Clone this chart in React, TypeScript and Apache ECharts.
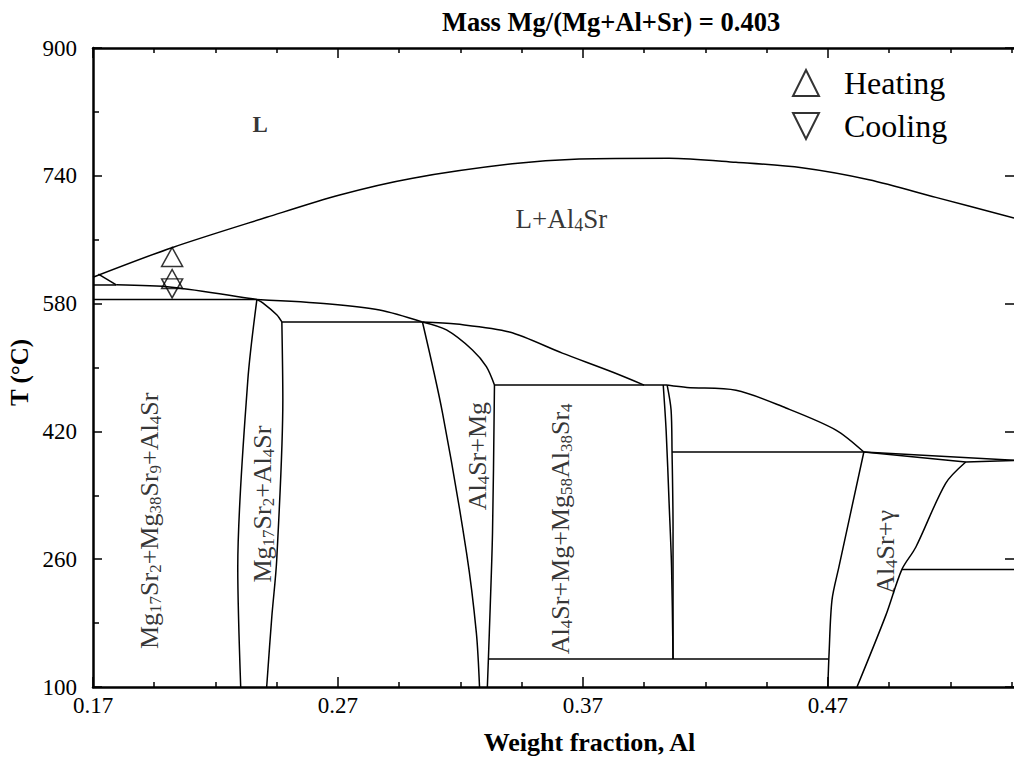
import React, { useEffect, useRef } from 'react';
import * as echarts from 'echarts';

const FONT = 'Liberation Serif, Times New Roman, serif';

const X_MIN = 0.17;
const X_MAX = 0.546;
const Y_MIN = 100;
const Y_MAX = 900;

const xTickMajor = [0.17, 0.27, 0.37, 0.47];
const xTickMinor = [0.195, 0.22, 0.245, 0.295, 0.32, 0.345, 0.395, 0.42, 0.445, 0.495, 0.52, 0.545];
const yTickMajor = [100, 260, 420, 580, 740, 900];
const yTickMinor = [180, 340, 500, 660, 820];

// phase boundaries [weight fraction Al, T (°C)] — curved ones
const liquidus = [[0.17, 613], [0.2022, 650], [0.2409, 688], [0.2707, 716], [0.3005, 737], [0.3412, 755], [0.3685, 761], [0.4052, 762], [0.4325, 757], [0.4594, 750], [0.4868, 735], [0.5141, 713], [0.546, 687]];
const lowerL1 = [[0.1795, 603.5], [0.2022, 600.5], [0.2352, 586], [0.2369, 585]];
const lowerL2 = [[0.2369, 585], [0.2666, 579.5], [0.287, 572], [0.3045, 557]];
const lowerL3 = [[0.3045, 557], [0.3184, 554.4], [0.34, 544.4], [0.3616, 518], [0.382, 494.4], [0.395, 478]];
const lowerL5 = [[0.4044, 478], [0.4125, 475], [0.4325, 471.5], [0.4529, 449.3], [0.4733, 421.7], [0.4847, 394.2]];
const mgSrLeft = [[0.2369, 585], [0.2332, 484], [0.2291, 250], [0.2303, 100]];
const mgSrRightTop = [[0.2369, 585], [0.2393, 581], [0.245, 566], [0.2471, 557]];
const mgSrRightBottom = [[0.2471, 557], [0.2475, 459], [0.245, 259], [0.243, 188], [0.2409, 100]];
const alMgLeft = [[0.3045, 557], [0.3127, 443], [0.3225, 268], [0.3265, 168], [0.3278, 100]];
const alMgRightTop = [[0.3045, 557], [0.3143, 547], [0.3249, 522], [0.3306, 501], [0.3339, 478]];
const alMgRightBottom = [[0.3339, 478], [0.3331, 293], [0.3318, 168], [0.331, 100]];
const v1 = [[0.4028, 478], [0.404, 420], [0.4052, 330], [0.4062, 250], [0.4068, 135]];
const v2 = [[0.4044, 478], [0.406, 447], [0.4064, 394], [0.4068, 300], [0.4068, 135]];
const al4SrBound = [[0.4847, 394.2], [0.4745, 250], [0.4717, 209], [0.4705, 142], [0.47, 100]];
const gammaBound = [[0.5263, 381.7], [0.5181, 355], [0.5059, 275], [0.5002, 247], [0.4937, 190], [0.4819, 100]];

// straight boundaries and tie lines
const lowerL0 = [[0.1722, 617], [0.1795, 603.5]];
const rightUpper = [[0.4847, 394.2], [0.546, 384]];
const rightLower = [[0.4847, 394.2], [0.5263, 381.7], [0.546, 383.5]];
const topLeftTie = [[0.17, 603.3], [0.1795, 603.3]];
const tie585 = [[0.17, 585], [0.2369, 585]];
const tie557 = [[0.2471, 557], [0.3045, 557]];
const tie478 = [[0.3339, 478], [0.4044, 478]];
const tie394 = [[0.4064, 394.2], [0.4847, 394.2]];
const tie135 = [[0.3316, 135], [0.4703, 135]];
const tie247 = [[0.5002, 247], [0.546, 247]];

const curvedLines = [liquidus, lowerL1, lowerL2, lowerL3, lowerL5, mgSrLeft, mgSrRightTop, mgSrRightBottom, alMgLeft, alMgRightTop, alMgRightBottom, v1, v2, al4SrBound, gammaBound];
const straightLines = [lowerL0, rightUpper, rightLower, topLeftTie, tie585, tie557, tie478, tie394, tie135, tie247];

// experimental points
const heatingPts = [[0.2023, 638.3], [0.2023, 610.8]];
const coolingPts = [[0.2023, 599.1]];

// region labels
const regionLabels = [
  { text: '{L|L}', x: 0.2382, t: 803.6, rot: 0 },
  { text: '{b|L+Al}{bs|4}{b|Sr}', x: 0.3612, t: 686, rot: 0 },
  { text: '{a|Mg}{s|17}{a|Sr}{s|2}{a|+Mg}{s|38}{a|Sr}{s|9}{a|+Al}{s|4}{a|Sr}', x: 0.1929, t: 308, rot: 90 },
  { text: '{a|Mg}{s|17}{a|Sr}{s|2}{a|+Al}{s|4}{a|Sr}', x: 0.239, t: 329, rot: 90 },
  { text: '{a|Al}{s|4}{a|Sr+Mg}', x: 0.3269, t: 389, rot: 90 },
  { text: '{a|Al}{s|4}{a|Sr+Mg+Mg}{s|58}{a|Al}{s|38}{a|Sr}{s|4}', x: 0.3608, t: 298, rot: 90 },
  { text: '{a|Al}{s|4}{a|Sr+γ}', x: 0.4935, t: 269, rot: 90 },
];

const UP = 'path://M5,0L10,10L0,10Z';
const DOWN = 'path://M0,0L10,0L5,10Z';

const tickStyle = { color: '#000', width: 1.5 };

function buildOption() {
  const baseX = {
    type: 'value', min: X_MIN, max: X_MAX,
    splitLine: { show: false },
    axisLabel: { show: false },
    axisTick: { show: false },
    axisLine: { show: false },
  };
  const baseY = {
    type: 'value', min: Y_MIN, max: Y_MAX,
    splitLine: { show: false },
    axisLabel: { show: false },
    axisTick: { show: false },
    axisLine: { show: false },
  };
  const mkLine = (pts: number[][], i: number, smooth: number | boolean) => ({
    type: 'line', name: 'b' + i, data: pts, showSymbol: false, symbol: 'none', smooth,
    lineStyle: { color: '#000', width: 1.5 }, silent: true, z: 2,
  });
  const lineSeries = [
    ...curvedLines.map((p, i) => mkLine(p, i, 0.3)),
    ...straightLines.map((p, i) => mkLine(p, 100 + i, false)),
  ];
  return {
    animation: false,
    backgroundColor: '#fff',
    textStyle: { fontFamily: FONT, color: '#000' },
    title: {
      text: 'Mass Mg/(Mg+Al+Sr) = 0.403', left: 442, top: 8, padding: 0,
      textStyle: { fontFamily: FONT, fontSize: 26.5, fontWeight: 'bold', color: '#000' },
    },
    legend: {
      data: ['Heating', 'Cooling'], orient: 'vertical', left: 787, top: 62,
      itemWidth: 26, itemHeight: 26, itemGap: 11, selectedMode: false,
      itemStyle: { color: 'rgba(255,255,255,0)', borderColor: '#000', borderWidth: 2 },
      textStyle: { fontFamily: FONT, fontSize: 32, color: '#000', padding: [0, 0, 0, 20] },
    },
    grid: { left: 93, top: 48, width: 921, height: 639, containLabel: false, outerBoundsMode: 'none' },
    xAxis: [
      {
        ...baseX, position: 'bottom',
        axisLine: { show: true, onZero: false, lineStyle: { color: '#000', width: 2.5 } },
        axisTick: { show: true, inside: true, length: 10, lineStyle: tickStyle, customValues: xTickMajor },
        axisLabel: {
          show: true, customValues: xTickMajor, formatter: (v: number) => v.toFixed(2),
          fontFamily: FONT, fontSize: 23, color: '#000', margin: 7,
        },
        name: 'Weight fraction, Al', nameLocation: 'middle', nameGap: 42,
        nameTextStyle: {
          fontFamily: FONT, fontSize: 26, lineHeight: 26, fontWeight: 'bold', color: '#000',
          padding: [0, 0, 0, 72],
        },
      },
      {
        ...baseX, position: 'bottom',
        axisTick: { show: true, inside: true, length: 5, lineStyle: tickStyle, customValues: xTickMinor },
      },
      {
        ...baseX, position: 'top',
        axisLine: { show: true, onZero: false, lineStyle: { color: '#000', width: 2.5 } },
        axisTick: { show: true, inside: true, length: 10, lineStyle: tickStyle, customValues: xTickMajor },
      },
      {
        ...baseX, position: 'top',
        axisTick: { show: true, inside: true, length: 5, lineStyle: tickStyle, customValues: xTickMinor },
      },
    ],
    yAxis: [
      {
        ...baseY, position: 'left',
        axisLine: { show: true, onZero: false, lineStyle: { color: '#000', width: 2.5 } },
        axisTick: { show: true, inside: true, length: 9, lineStyle: tickStyle, customValues: yTickMajor },
        axisLabel: {
          show: true, customValues: yTickMajor, formatter: (v: number) => String(v),
          fontFamily: FONT, fontSize: 23, color: '#000', margin: 16,
        },
        name: 'T (°C)', nameLocation: 'middle', nameGap: 59,
        nameTextStyle: { fontFamily: FONT, fontSize: 25, fontWeight: 'bold', color: '#000', padding: [0, 10, 0, 0] },
      },
      {
        ...baseY, position: 'left',
        axisTick: { show: true, inside: true, length: 6, lineStyle: tickStyle, customValues: yTickMinor },
      },
      {
        ...baseY, position: 'right',
        axisTick: { show: true, inside: true, length: 9, lineStyle: tickStyle, customValues: yTickMajor },
      },
    ],
    series: [
      ...lineSeries,
      {
        type: 'scatter', name: 'Heating', data: heatingPts, symbol: UP, symbolSize: [21, 19],
        itemStyle: { color: 'rgba(255,255,255,0)', borderColor: '#000', borderWidth: 1.5 }, z: 5, silent: true,
      },
      {
        type: 'scatter', name: 'Cooling', data: coolingPts, symbol: DOWN, symbolSize: [21, 19],
        itemStyle: { color: 'rgba(255,255,255,0)', borderColor: '#000', borderWidth: 1.5 }, z: 5, silent: true,
      },
      {
        type: 'scatter', name: 'labels', symbolSize: 1, silent: true, z: 6,
        itemStyle: { color: 'rgba(0,0,0,0)' },
        data: regionLabels.map((r) => ({
          value: [r.x, r.t],
          label: {
            show: true, position: 'inside', rotate: r.rot, formatter: r.text,
            align: 'center', verticalAlign: 'middle', color: '#000',
            rich: {
              a: { fontFamily: FONT, fontSize: 26, lineHeight: 30, color: '#000' },
              s: { fontFamily: FONT, fontSize: 17, lineHeight: 17, verticalAlign: 'bottom', color: '#000' },
              b: { fontFamily: FONT, fontSize: 27, lineHeight: 31, color: '#000' },
              bs: { fontFamily: FONT, fontSize: 18, lineHeight: 18, verticalAlign: 'bottom', color: '#000' },
              L: { fontFamily: FONT, fontSize: 23, fontWeight: 'bold', color: '#000' },
            },
          },
        })),
      },
    ],
  };
}

export default function App() {
  const ref = useRef<HTMLDivElement>(null);
  useEffect(() => {
    const chart = echarts.init(ref.current as HTMLDivElement, null, { renderer: 'svg' });
    chart.setOption(buildOption() as any);
    return () => chart.dispose();
  }, []);
  return (
    <div
      ref={ref}
      style={{ position: 'fixed', left: 0, top: 0, width: 1014, height: 758, background: '#fff' }}
    />
  );
}
